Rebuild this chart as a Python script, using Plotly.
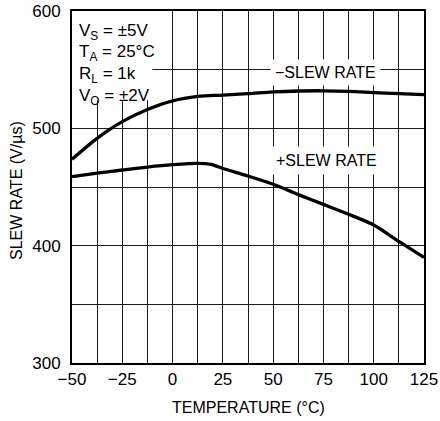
import plotly.graph_objects as go

# Data
temp_neg = [-50, -37.5, -25, -12.5, 0, 12.5, 25, 37.5, 50, 62.5, 75, 87.5, 100, 112.5, 125]
slew_neg = [473.6, 491.5, 505.7, 516.0, 523.4, 527.2, 528.3, 529.5, 531.0, 531.8, 532.0, 531.5, 530.5, 529.5, 528.7]

temp_pos = [-50, -37.5, -25, -12.5, 0, 12.5, 19, 25, 37.5, 50, 62.5, 75, 87.5, 100, 112.5, 125]
slew_pos = [458.9, 461.8, 464.5, 467.0, 469.0, 470.2, 469.3, 465.8, 459.4, 452.3, 443.5, 435.2, 426.8, 417.6, 403.6, 390.0]

x_ticks = [-50, -25, 0, 25, 50, 75, 100, 125]
x_labels = ["−50", "−25", "0", "25", "50", "75", "100", "125"]
y_ticks = [300, 400, 500, 600]
y_labels = ["300", "400", "500", "600"]

FONT = "Liberation Sans, Arial, sans-serif"
FS = 16
GRID = "#1a1a1a"

fig = go.Figure()
fig.add_trace(go.Scatter(x=temp_neg, y=slew_neg, mode="lines",
                         line=dict(color="black", width=3.3, shape="spline", smoothing=1.0),
                         showlegend=False, hoverinfo="skip"))
fig.add_trace(go.Scatter(x=temp_pos, y=slew_pos, mode="lines",
                         line=dict(color="black", width=3.3, shape="spline", smoothing=0.8),
                         showlegend=False, hoverinfo="skip"))

# white box behind the condition text
fig.add_shape(type="rect", x0=-50, x1=-10, y0=524, y1=600,
              fillcolor="white", line=dict(width=0), layer="between")

info = [("V<sub>S</sub> = ±5V", 582.5),
        ("T<sub>A</sub> = 25°C", 564.0),
        ("R<sub>L</sub> = 1k", 545.5),
        ("V<sub>O</sub> = ±2V", 527.0)]
for txt, yv in info:
    fig.add_annotation(x=-47.3, y=yv, text=txt, showarrow=False, xanchor="left", yanchor="middle",
                       font=dict(family=FONT, size=17, color="black"))

fig.add_annotation(x=75.8, y=547.2, text="−SLEW RATE", showarrow=False,
                   bgcolor="white", borderpad=4,
                   font=dict(family=FONT, size=FS, color="black"))
fig.add_annotation(x=76.3, y=473.0, text="+SLEW RATE", showarrow=False,
                   bgcolor="white", borderpad=5,
                   font=dict(family=FONT, size=FS, color="black"))

# axis titles
fig.add_annotation(xref="paper", yref="paper", x=0.5, y=-0.125, text="TEMPERATURE (°C)",
                   showarrow=False, xanchor="center", yanchor="middle",
                   font=dict(family=FONT, size=FS, color="black"))
fig.add_annotation(xref="paper", yref="paper", x=-0.156, y=0.489, text="SLEW RATE (V/µs)",
                   showarrow=False, xanchor="center", yanchor="middle", textangle=-90,
                   font=dict(family=FONT, size=FS, color="black"))

fig.update_xaxes(range=[-50, 125], tickvals=x_ticks, ticktext=x_labels,
                 showgrid=True, gridcolor=GRID, gridwidth=1,
                 minor=dict(tick0=-50, dtick=12.5, showgrid=True, gridcolor=GRID, gridwidth=1, ticks=""),
                 showline=True, linecolor="black", linewidth=2, mirror=True,
                 ticks="", zeroline=False, automargin=False,
                 tickfont=dict(family=FONT, size=17, color="black"))
fig.update_yaxes(range=[300, 600], tickvals=y_ticks, ticktext=y_labels,
                 showgrid=True, gridcolor=GRID, gridwidth=1,
                 minor=dict(tick0=300, dtick=50, showgrid=True, gridcolor=GRID, gridwidth=1, ticks=""),
                 showline=True, linecolor="black", linewidth=2, mirror=True,
                 ticks="", zeroline=False, automargin=False, ticklabelstandoff=6,
                 tickfont=dict(family=FONT, size=17, color="black"))

fig.update_layout(width=440, height=421, margin=dict(l=72, r=16, t=11, b=58),
                  plot_bgcolor="white", paper_bgcolor="white",
                  font=dict(family=FONT, color="black"))

fig.write_html("out.html", config={"displayModeBar": False},
               post_script="document.body.style.margin='0';document.body.style.overflow='hidden';")
